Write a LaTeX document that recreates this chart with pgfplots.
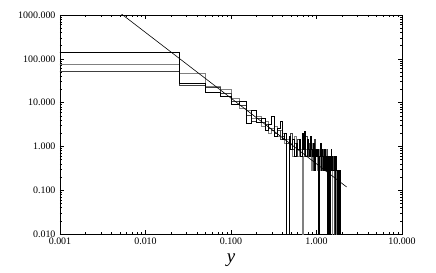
\documentclass[border=0pt]{standalone}
\usepackage{fontspec}
\setmainfont{Liberation Serif}
\usepackage{pgfplots}
\usepackage{pgfplotstable}
\pgfplotsset{compat=1.18}
\pgfplotstableread{
x A B C
0.0005 140 75 52
0.025 27.6 46.7 24.3
0.05 17.2 23.9 21.9
0.075 14.1 20.1 16.5
0.1 9.1 12.5 10.6
0.125 10.7 7.5 8.6
0.15 3.3 6.7 5.2
0.175 6.5 4.4 3.8
0.2 3.5 4.9 4.4
0.225 4.4 2.9 3.5
0.25 2.3 3.8 3.2
0.275 3.2 2.0 2.6
0.3 4.9 2.6 2.3
0.325 1.7 2.9 2.0
0.35 2.6 1.7 2.3
0.375 3.8 2.3 1.45
0.4 1.45 2.0 1.74
0.425 2.0 1.16 1.45
0.45 1e-4 1.45 1.16
0.475 1.74 0.87 1.45
0.5 0.87 1.16 2.03
0.525 1.45 0.58 0.87
0.55 0.58 1.74 1.16
0.575 1.16 0.87 0.58
0.6 0.87 0.58 1.45
0.625 1.45 1.16 0.87
0.65 0.58 0.87 0.58
0.675 2.03 1e-4 1.16
0.7 0.87 0.58 0.87
0.725 2.17 1.45 0.58
0.75 0.58 0.87 1.74
0.775 1.45 0.58 0.87
0.8 0.87 1.16 0.58
0.825 0.58 0.87 1.16
0.85 1.74 0.58 0.87
0.875 0.87 0.29 0.58
0.9 0.58 1.16 0.87
0.925 1.16 0.58 0.29
0.95 0.29 0.87 1.45
0.975 0.87 0.58 0.58
1.0 0.58 0.87 0.87
1.025 0.87 0.29 0.58
1.05 1e-4 0.58 0.29
1.075 0.58 0.87 0.58
1.1 1.16 0.29 0.87
1.125 0.29 0.58 0.58
1.15 0.87 0.87 0.29
1.175 0.58 0.29 0.87
1.2 0.29 0.58 0.58
1.225 0.58 0.29 0.29
1.25 0.87 0.58 0.58
1.275 0.29 0.87 0.29
1.3 0.58 0.29 0.58
1.325 0.29 0.58 0.87
1.35 1e-4 0.29 0.29
1.375 0.58 1e-4 0.58
1.4 0.29 0.58 1e-4
1.425 1e-4 0.29 0.58
1.45 0.58 0.29 0.29
1.475 0.87 0.58 0.29
1.5 0.29 0.29 0.58
1.525 0.58 1e-4 0.29
1.55 0.29 0.58 0.29
1.575 0.29 0.29 0.58
1.6 0.58 0.29 0.29
1.625 0.29 0.58 1e-4
1.65 1e-4 0.29 0.29
1.675 0.58 0.29 0.29
1.7 0.29 1e-4 0.58
1.725 0.29 0.29 0.29
1.75 1e-4 0.29 0.29
1.775 0.29 0.29 1e-4
1.8 0.29 1e-4 0.29
1.825 1e-4 0.29 0.29
1.85 0.29 0.29 1e-4
1.875 0.29 1e-4 0.29
1.9 1e-4 0.29 0.29
1.925 1e-4 1e-4 1e-4
}\histdata
\begin{document}
\begin{tikzpicture}
\useasboundingbox (-60bp,-39bp) rectangle (376bp,234bp);
\begin{axis}[
  scale only axis,
  width=342bp, height=219bp,
  xmode=log, ymode=log,
  xmin=0.001, xmax=10, ymin=0.01, ymax=1000,
  xtick={0.001,0.01,0.1,1,10},
  xticklabels={0.001,0.010,0.100,1.000,10.000},
  ytick={0.01,0.1,1,10,100,1000},
  yticklabels={0.010,0.100,1.000,10.000,100.000,1000.000},
  tick label style={font=\fontsize{10}{12}\selectfont},
  /pgf/number format/assume math mode=true,
  major tick length=4bp, minor tick length=2bp,
  tick style={black, line width=0.5pt},
  axis line style={line width=0.8pt},
  xlabel={\fontsize{19}{20}\selectfont\itshape y},
  xlabel style={yshift=-3bp},
  yticklabel style={xshift=-1bp},
]
\addplot[const plot, black!50, line width=0.7pt] table[x=x, y=B] {\histdata};
\addplot[const plot, black!75, line width=0.7pt] table[x=x, y=C] {\histdata};
\addplot[const plot, black, line width=0.7pt] table[x=x, y=A] {\histdata};
\addplot[black, line width=0.6pt] coordinates {(0.005,1131) (2.25,0.1185)};
\end{axis}
\end{tikzpicture}
\end{document}
